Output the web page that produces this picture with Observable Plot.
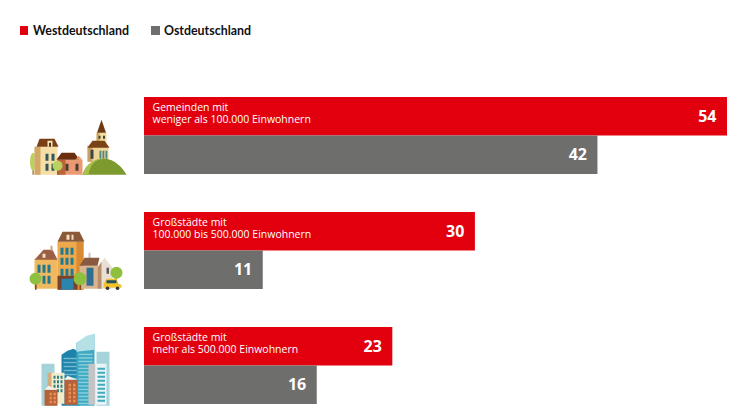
<!DOCTYPE html>
<html lang="de"><head><meta charset="utf-8">
<script src="https://cdn.jsdelivr.net/npm/d3@7"></script>
<script src="https://cdn.jsdelivr.net/npm/@observablehq/plot@0.6"></script>
<style>
html,body{margin:0;padding:0;background:#fff;overflow:hidden}
#legend{height:60px;box-sizing:border-box;position:relative;font-family:Lato,sans-serif;font-weight:700;font-size:12.4px;color:#111}
#legend span{position:absolute;top:22px;line-height:17px;white-space:nowrap}
#legend i{position:absolute;top:26px;width:8.5px;height:8.5px;display:block}
svg{display:block}
</style></head><body>
<div id="legend"></div><div id="chart"></div>
<script>
const categories = ["klein", "mittel", "gross"];
const categoryLabels = ["Gemeinden mit\nweniger als 100.000 Einwohnern", "Großstädte mit\n100.000 bis 500.000 Einwohnern", "Großstädte mit\nmehr als 500.000 Einwohnern"];
const seriesNames = ["Westdeutschland", "Ostdeutschland"];
const westValues = [54, 30.65, 23];
const westLabels = ["54", "30", "23"];
const ostValues = [42, 11, 16];
const ostLabels = ["42", "11", "16"];
const seriesColors = ["#e2000f", "#6e6e6d"];

const rect=(x,y,w,h,f)=>`<rect x="${x}" y="${y}" width="${w}" height="${h}" fill="${f}"/>`;
const poly=(p,f)=>`<polygon points="${p}" fill="${f}"/>`;
const circ=(x,y,r,f)=>`<circle cx="${x}" cy="${y}" r="${r}" fill="${f}"/>`;
const grid=(xs,ys,w,h,f)=>xs.flatMap(x=>ys.map(y=>rect(x,y,w,h,f))).join("");
const wrap=s=>"data:image/svg+xml,"+encodeURIComponent(`<svg xmlns="http://www.w3.org/2000/svg" viewBox="24 0 108 80" width="108" height="80">${s}</svg>`);

const village=wrap(
  rect(32,62,1.2,15,"#8a6a3a")+`<ellipse cx="32.5" cy="64" rx="3" ry="9" fill="#b9d25e"/>`+
  rect(34,49,23,28,"#f6dfa6")+rect(34,49,6,28,"#d2a768")+
  poly("36,49 39,41 54,41 58,49","#7a3f14")+rect(47,43,5,6,"#f6e7c0")+rect(48.5,45,2,4,"#5d3413")+
  grid([45,51],[56,66],3,7,"#33555c")+
  rect(57,62,25,15,"#ea9a72")+rect(57,62,8,15,"#bb643c")+
  poly("56,62 61,55 74,55 79,62","#6b2f10")+grid([65,75],[66],3,7,"#4f3a33")+
  poly("75,62 78,58 82,62","#ea9a72")+
  rect(56.5,72,1.2,5,"#8a6a3a")+circ(57,68,5,"#b9d25e")+
  rect(96,35,10,12,"#f2dc9c")+rect(96,35,3,12,"#cfa968")+grid([98,102.5],[38],2,3,"#3f3f3f")+
  poly("101,22 96.5,35 105.5,35","#6e3a12")+
  rect(87,48,21,16,"#efd595")+rect(87,48,5,16,"#c9a066")+
  poly("87,50 92,43 104,43 109,50","#7a4317")+
  rect(90,52,3,9,"#3c4648")+grid([99,102,105],[53],1.8,8,"#4f8580")+
  `<path d="M82 77 C85 66 95 61 104 61 C114 61 122 70 126 77 Z" fill="#7d9a2e"/>`+
  `<path d="M82 77 C85 66 95 61 100 61 C92 64 89 70 88 77 Z" fill="#a9c04c"/>`
);
const town=wrap(
  rect(34,46,23,30,"#f1b95f")+poly("34,47 43,37 52,37 57,47","#9a5f45")+rect(50,33,2,5,"#d6a283")+
  rect(42,41,3,4,"#f3dcc0")+grid([37,42,47],[52],3,8,"#23788e")+grid([42,47],[63],3,8,"#23788e")+
  rect(57,29,26,48,"#eda94c")+rect(76,29,7,48,"#d98a32")+
  poly("57,29 62,19 79,19 84,29","#8a5a38")+rect(66,22,3,5,"#f3dcc0")+rect(71,22,2,5,"#f3dcc0")+
  grid([60,65,70],[35,45,56],3,7,"#1f7a96")+
  rect(57,63,20,14,"#7a4030")+rect(61,66,12,11,"#2b86ad")+
  rect(88,40,2,7,"#c9c4bb")+
  rect(79,53,20,23,"#d9b48c")+poly("79,53 84,45 99,45 97,53","#8a5a40")+rect(86,55,7,18,"#2f6f93")+
  poly("97,76 97,55 104,45 112,55 112,76","#e9dfd2")+poly("97,76 97,55 101,49 101,76","#b98d6a")+rect(106,55,2.5,6,"#5a5a5a")+
  rect(115,62,1.4,10,"#7a5a33")+circ(116,60,6,"#8fbf3e")+
  rect(34.5,70,1.6,7,"#7a4a23")+circ(35,66,6,"#8fbf3e")+
  rect(79,70,1.6,7,"#7a4a23")+circ(79.5,66,6.5,"#8fbf3e")+
  `<path d="M103 75 V71 L106 66 H116 L118 71 L121 72 V75 Z" fill="#f2c230"/>`+rect(106,67.5,10,3,"#23505f")+
  circ(107,75.5,1.8,"#333")+circ(117,75.5,1.8,"#333")
);
const stripes=(x,y0,y1,w,step,h,f)=>{let s="";for(let y=y0;y<y1;y+=step)s+=rect(x,y,w,h,f);return s;};
const skyline=wrap(
  rect(41,36,13,42,"#a5d3da")+rect(96,24,13,54,"#a5d3da")+
  poly("61,27 67,23 73,21 80,25 80,78 61,78","#1f82aa")+stripes(63,30,76,15,4,1.5,"#6fb8cf")+
  poly("76,15 94,6 94,78 76,78","#3fa9c2")+poly("76,15 86,8 94,6 94,22 76,24","#b5e0e6")+stripes(78,26,76,14,3.5,1.4,"#8ccfdc")+
  rect(88,36,7,41,"#c4c4c4")+rect(95,36,11,41,"#e9f4f4")+stripes(97,40,76,7.5,4,2,"#3fa9c2")+
  rect(47,45,6,16,"#d3ad7e")+rect(51,45,13,31,"#f2eccc")+grid([53,56.5,60],[48,52.5,57,61.5],2,3,"#2d7f85")+
  rect(44,62,13,16,"#b5623c")+poly("44,62 48,58 57,62","#f6f3ea")+grid([49,53],[65,69,73],2.4,2.6,"#e8904c")+
  rect(64,52,13,25,"#b5623c")+poly("64,52 67,48 77,52","#f6f3ea")+grid([68,72.5],[56,60,64,68,72],2.6,2.6,"#e8904c")
);
const icons=[village,town,skyline];

const rows=categories.flatMap((c,i)=>[
  {cat:c,series:seriesNames[0],value:westValues[i],label:westLabels[i],text:categoryLabels[i]},
  {cat:c,series:seriesNames[1],value:ostValues[i],label:ostLabels[i],text:null}
]);
const firstOfCat=rows.filter(d=>d.text);

const legend=document.getElementById("legend");
[[19.5,33],[151,164]].forEach(([sx,tx],i)=>{
  const sw=document.createElement("i");sw.style.left=sx+"px";sw.style.background=seriesColors[i];legend.appendChild(sw);
  const t=document.createElement("span");t.style.left=tx+"px";t.textContent=seriesNames[i];legend.appendChild(t);
});

const plot=Plot.plot({
  width:746,height:359,marginLeft:144,marginRight:19,marginTop:37,marginBottom:15,
  style:{fontFamily:"'Open Sans',sans-serif",background:"#fff"},
  x:{domain:[0,54],axis:null},
  y:{domain:seriesNames,axis:null,padding:0,round:false},
  fy:{domain:categories,axis:null,padding:0.3304,round:false},
  color:{domain:seriesNames,range:seriesColors},
  marks:[
    Plot.barX(rows,{x:"value",y:"series",fy:"cat",fill:"series"}),
    Plot.text(firstOfCat,{x:0,y:"series",fy:"cat",text:"text",textAnchor:"start",dx:8,dy:-3.5,fill:"#fff",fontSize:10.5,lineHeight:1.14}),
    Plot.text(rows,{x:"value",y:"series",fy:"cat",text:"label",textAnchor:"end",dx:-11,dy:0,fill:"#fff",fontSize:16,fontWeight:700}),
    Plot.image(firstOfCat,{x:0,y:"series",fy:"cat",dx:-66,dy:21,width:108,height:80,src:d=>icons[categories.indexOf(d.cat)]})
  ]
});
document.getElementById("chart").appendChild(plot);
</script></body></html>
